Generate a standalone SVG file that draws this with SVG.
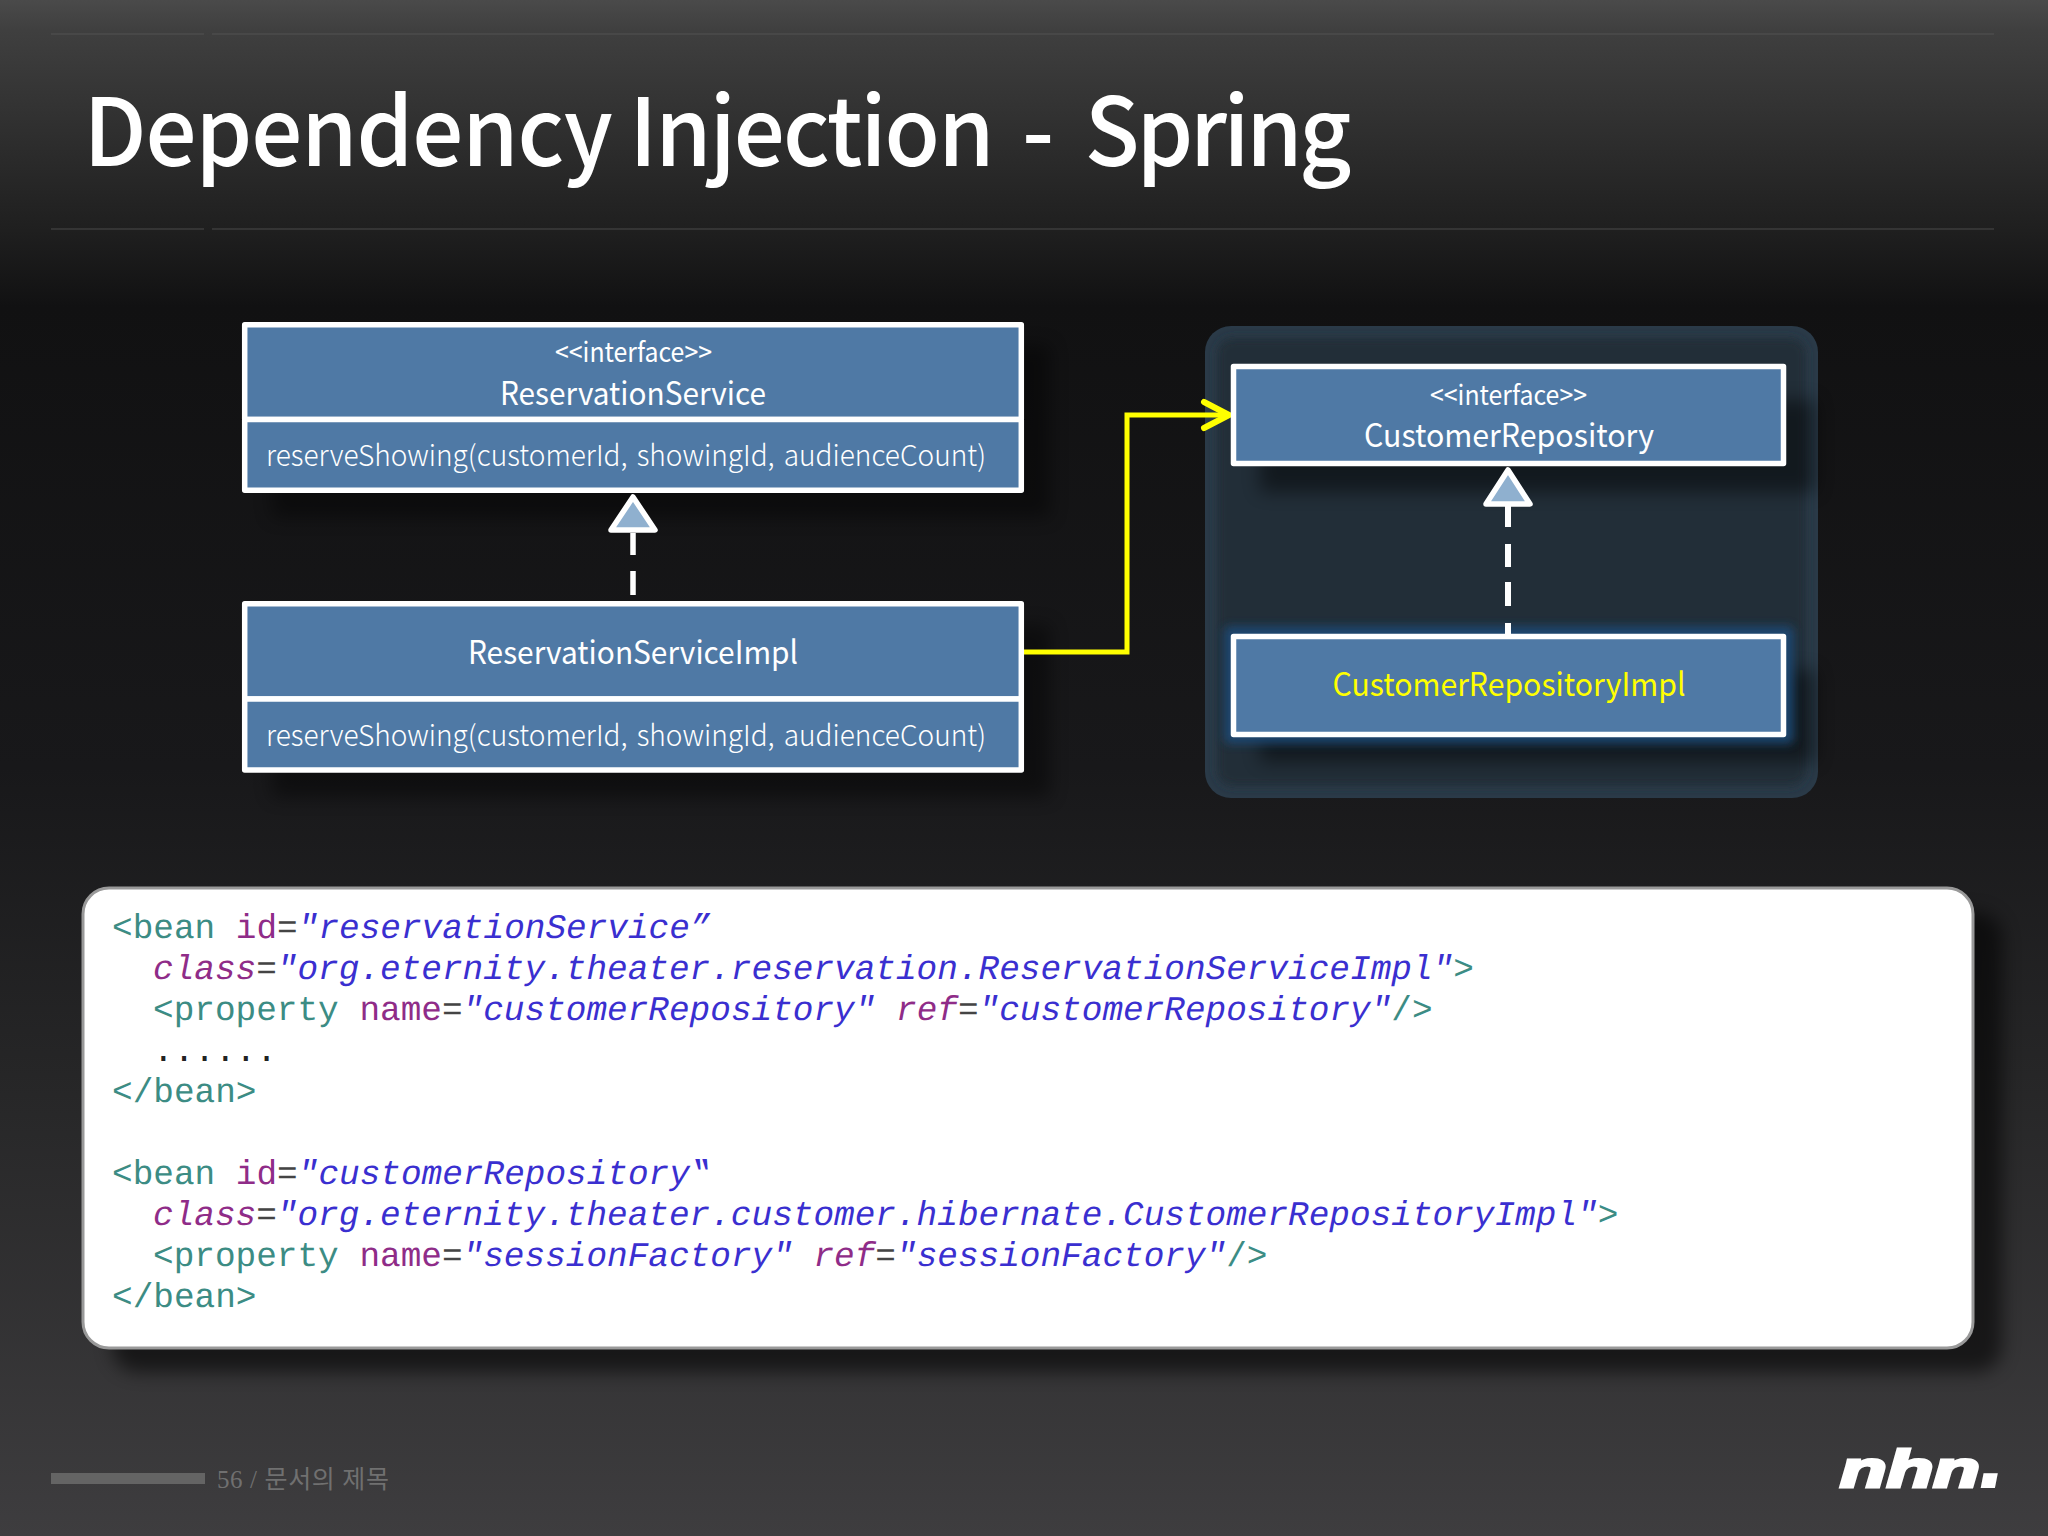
<svg xmlns="http://www.w3.org/2000/svg" width="2048" height="1536" viewBox="0 0 2048 1536">
<defs>
<linearGradient id="bg" x1="0" y1="0" x2="0" y2="1"><stop offset="0" stop-color="#4a4a4a"/><stop offset="0.02" stop-color="#3f3f3f"/><stop offset="0.15" stop-color="#1f1f1f"/><stop offset="0.2" stop-color="#111112"/><stop offset="0.5" stop-color="#18181a"/><stop offset="0.7" stop-color="#262627"/><stop offset="1" stop-color="#3e3d3f"/></linearGradient>
<filter id="sh" x="-10%" y="-30%" width="125%" height="170%"><feGaussianBlur stdDeviation="9"/></filter>
<filter id="gl" x="-10%" y="-30%" width="120%" height="160%"><feGaussianBlur stdDeviation="5"/></filter>
</defs>
<style>
.box{fill:#4f79a5;stroke:#fff;stroke-width:5.5;stroke-linejoin:round}
.t{font-family:"Noto Sans CJK KR","Noto Sans",sans-serif;fill:#fff;text-anchor:middle}
.m{font-size:29px;font-weight:300;word-spacing:3px}.h{font-size:32px;font-weight:400}.s{font-size:27px;font-weight:400}
.c{font-family:"Liberation Mono",monospace;font-size:34.4px;font-style:italic;white-space:pre;text-rendering:geometricPrecision}
.n{fill:#3c8c84;font-style:normal}.a{fill:#8f2c88}.an{fill:#8f2c88;font-style:normal}.v{fill:#3a2fd0}.k{fill:#444;font-style:normal}
.sd{fill:#000;filter:url(#sh)}
.w{font-family:"Noto Sans CJK KR","Noto Sans",sans-serif;font-weight:500;font-size:94px;fill:#fff}
.l{font-family:"Liberation Sans",sans-serif;font-weight:bold;font-style:italic;fill:#fff;stroke:#fff}
</style>
<rect width="2048" height="1536" fill="url(#bg)"/>
<path d="M51 34H204M212 34H1994" stroke="#4c4c4c" stroke-width="1.5"/>
<path d="M51 229H204M212 229H1994" stroke="#3c3c3c" stroke-width="1.5"/>
<text id="title" y="166" class="w" transform="scale(.96 1)"><tspan x="87" letter-spacing="-1.1">Dependency</tspan><tspan x="655.6" letter-spacing="-2">Injection</tspan><tspan x="1064.6">-</tspan><tspan x="1130" letter-spacing="-3.4">Spring</tspan></text>
<g id="package">
<rect x="1205" y="326" width="613" height="472" rx="26" fill="#2a3a48"/>
<rect x="1217" y="338" width="589" height="448" rx="16" fill="#222d38" filter="url(#gl)"/>
</g>
<rect class="sd" x="272" y="345" width="778" height="172" opacity=".4"/>
<rect class="sd" x="272" y="625" width="778" height="172" opacity=".4"/>
<rect class="sd" x="1260" y="400" width="556" height="92" opacity=".45"/>
<rect class="sd" x="1260" y="670" width="556" height="92" opacity=".45"/>
<rect x="1224" y="626" width="570" height="118" rx="6" fill="#1f4a74" opacity=".9" filter="url(#gl)"/>
<g id="connectors" fill="none">
<path d="M1024 652H1127V415H1226" stroke="#ffff00" stroke-width="5"/>
<path d="M1204 402L1229 415L1204 428" stroke="#ffff00" stroke-width="6" stroke-linecap="round" stroke-linejoin="round"/>
<path d="M633 533V595" stroke="#fff" stroke-width="5.5" stroke-dasharray="22 16 24 16"/>
<path d="M633 497L655 530H611Z" fill="#8fb0cf" stroke="#fff" stroke-width="5.5" stroke-linejoin="round"/>
<path d="M1508 506V636" stroke="#fff" stroke-width="6" stroke-dasharray="21 17 23 15 24 17 13"/>
<path d="M1508 470L1530 504H1486Z" fill="#8fb0cf" stroke="#fff" stroke-width="5.5" stroke-linejoin="round"/>
</g>
<g id="ReservationService">
<rect class="box" x="244.7" y="324.8" width="776.6" height="94.7"/><rect class="box" x="244.7" y="419.5" width="776.6" height="70.8"/>
<text class="t s" x="633.5" y="362" textLength="157" lengthAdjust="spacingAndGlyphs">&lt;&lt;interface&gt;&gt;</text>
<text class="t h" x="633" y="405" textLength="266" lengthAdjust="spacingAndGlyphs">ReservationService</text>
<text class="t m" x="626" y="466" textLength="720" lengthAdjust="spacingAndGlyphs">reserveShowing(customerId, showingId, audienceCount)</text>
</g>
<g id="ReservationServiceImpl">
<rect class="box" x="244.7" y="603.8" width="776.6" height="95.2"/><rect class="box" x="244.7" y="699" width="776.6" height="71"/>
<text class="t h" x="633" y="664" textLength="330" lengthAdjust="spacingAndGlyphs">ReservationServiceImpl</text>
<text class="t m" x="626" y="746" textLength="720" lengthAdjust="spacingAndGlyphs">reserveShowing(customerId, showingId, audienceCount)</text>
</g>
<g id="CustomerRepository">
<rect class="box" x="1233.5" y="366.5" width="550" height="97"/>
<text class="t s" x="1508.5" y="405" textLength="157" lengthAdjust="spacingAndGlyphs">&lt;&lt;interface&gt;&gt;</text>
<text class="t h" x="1509" y="447" textLength="290" lengthAdjust="spacingAndGlyphs">CustomerRepository</text>
</g>
<g id="CustomerRepositoryImpl">
<rect class="box" x="1233.5" y="636.5" width="550" height="98"/>
<text class="t h" x="1509" y="696" textLength="353" lengthAdjust="spacingAndGlyphs" style="fill:#ffff00">CustomerRepositoryImpl</text>
</g>
<g id="code">
<rect x="112" y="912" width="1890" height="460" rx="26" fill="#000" opacity=".55" filter="url(#sh)"/>
<rect x="83" y="888" width="1890" height="460" rx="26" fill="#fff" stroke="#999" stroke-width="3"/>
<text class="c" x="112" y="938"><tspan class="n">&lt;bean </tspan><tspan class="an">id</tspan><tspan class="k">=</tspan><tspan class="v">"reservationService”</tspan></text>
<text class="c" x="153" y="979"><tspan class="a">class</tspan><tspan class="k">=</tspan><tspan class="v">"org.eternity.theater.reservation.ReservationServiceImpl"</tspan><tspan class="n">&gt;</tspan></text>
<text class="c" x="153" y="1020"><tspan class="n">&lt;property </tspan><tspan class="an">name</tspan><tspan class="k">=</tspan><tspan class="v">"customerRepository" </tspan><tspan class="a">ref</tspan><tspan class="k">=</tspan><tspan class="v">"customerRepository"</tspan><tspan class="n">/&gt;</tspan></text>
<text class="c" x="153" y="1061" style="font-style:normal" fill="#222">......</text>
<text class="c n" x="112" y="1102">&lt;/bean&gt;</text>
<text class="c" x="112" y="1184"><tspan class="n">&lt;bean </tspan><tspan class="an">id</tspan><tspan class="k">=</tspan><tspan class="v">"customerRepository‟</tspan></text>
<text class="c" x="153" y="1225"><tspan class="a">class</tspan><tspan class="k">=</tspan><tspan class="v">"org.eternity.theater.customer.hibernate.CustomerRepositoryImpl"</tspan><tspan class="n">&gt;</tspan></text>
<text class="c" x="153" y="1266"><tspan class="n">&lt;property </tspan><tspan class="an">name</tspan><tspan class="k">=</tspan><tspan class="v">"sessionFactory" </tspan><tspan class="a">ref</tspan><tspan class="k">=</tspan><tspan class="v">"sessionFactory"</tspan><tspan class="n">/&gt;</tspan></text>
<text class="c n" x="112" y="1307">&lt;/bean&gt;</text>
</g>
<rect x="51" y="1473" width="154" height="11" fill="#646464"/>
<text x="217" y="1488" font-family="Liberation Serif,Noto Sans CJK KR,serif" font-size="25" fill="#707070" textLength="172">56 / 문서의 제목</text>
<g id="logo">
<text class="l" x="1840" y="1487" font-size="52" stroke-width="3" textLength="140" lengthAdjust="spacingAndGlyphs">nhn</text>
<text class="l" x="1980" y="1487" font-size="86" stroke-width="2">.</text>
</g>
</svg>
